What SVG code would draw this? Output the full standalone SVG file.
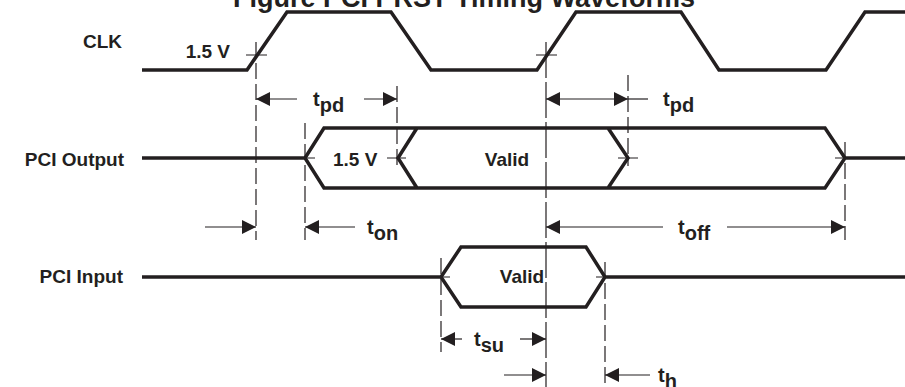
<svg xmlns="http://www.w3.org/2000/svg" width="905" height="387" viewBox="0 0 905 387">
<defs>
<style>
.wave{fill:none;stroke:#231f20;stroke-width:3.5;stroke-linejoin:miter;stroke-linecap:butt}
.thin{fill:none;stroke:#231f20;stroke-width:1.2}
.dash{fill:none;stroke:#231f20;stroke-width:1.2;stroke-dasharray:16 5}
.ldash{fill:none;stroke:#231f20;stroke-width:1.2;stroke-dasharray:36 4}
.lbl{font-family:"Liberation Sans",Arial,sans-serif;font-weight:bold;font-size:19px;fill:#231f20}
.tt{font-family:"Liberation Sans",Arial,sans-serif;font-weight:bold;font-size:20px;fill:#231f20}
.title{font-family:"Liberation Sans",Arial,sans-serif;font-weight:bold;font-size:27px;fill:#231f20}
</style>
<marker id="ah" viewBox="0 0 14 14" refX="14" refY="7" markerWidth="14" markerHeight="14" markerUnits="userSpaceOnUse" orient="auto-start-reverse">
<path d="M0,0 L14,7 L0,14 Z" fill="#231f20"/>
</marker>
</defs>
<rect width="905" height="387" fill="#ffffff"/>
<text class="title" x="464" y="7" text-anchor="middle">Figure PCI PRST Timing Waveforms</text>

<g id="clk">
<text class="lbl" x="122" y="48" text-anchor="end">CLK</text>
<path class="wave" d="M142,70 H247 L287,12 H391 L431,70 H537 L576,12 H681 L719,70 H826 L865,12 H905"/>
<text class="lbl" x="230" y="58" text-anchor="end">1.5 V</text>
</g>

<g id="pci-output">
<text class="lbl" x="124" y="166" text-anchor="end">PCI Output</text>
<path class="wave" d="M142,158 H305 M305,158 L324,128 H825 L845,158 L825,188 H324 Z M845,158 H905 M417,128 L398,158 L417,188 M608,128 L628,158 L608,188"/>
<text class="lbl" x="333" y="166">1.5 V</text>
<text class="lbl" x="507" y="166" text-anchor="middle">Valid</text>
</g>

<g id="pci-input">
<text class="lbl" x="123" y="283" text-anchor="end">PCI Input</text>
<path class="wave" d="M142,277 H441 M441,277 L461,247 H586 L605,277 L586,307 H461 Z M605,277 H905"/>
<text class="lbl" x="522" y="283" text-anchor="middle">Valid</text>
</g>

<g id="connectors">
<path class="dash" d="M256,42 V240"/>
<path class="dash" d="M305,123 V240"/>
<path class="dash" d="M397,86 V170"/>
<path class="dash" d="M628,75 V166"/>
<path class="dash" d="M845,142 V240"/>
<path class="dash" d="M441,258 V352"/>
<path class="dash" d="M605,262 V387"/>
<path class="ldash" d="M546,42 V387"/>
<path class="thin" d="M246,55 H267 M536,55 H557 M305,158 H315 M387,158 H406 M618,158 H638 M835,158 H855 M441,277 H450 M596,277 H605"/>
<path class="thin" d="M297,99 H256" marker-end="url(#ah)"/>
<path class="thin" d="M364,99 H397" marker-end="url(#ah)"/>
<text class="tt" x="313" y="106">t<tspan dy="5.5">pd</tspan></text>
<path class="thin" d="M546,99 H628" marker-start="url(#ah)" marker-end="url(#ah)"/>
<path class="thin" d="M628,99 H648"/>
<text class="tt" x="663" y="106">t<tspan dy="5.5">pd</tspan></text>
<path class="thin" d="M205,227 H256" marker-end="url(#ah)"/>
<path class="thin" d="M355,227 H305" marker-end="url(#ah)"/>
<text class="tt" x="367" y="234">t<tspan dy="5.5">on</tspan></text>
<path class="thin" d="M663,227 H546" marker-end="url(#ah)"/>
<path class="thin" d="M727,227 H845" marker-end="url(#ah)"/>
<text class="tt" x="678" y="234">t<tspan dy="5.5">off</tspan></text>
<path class="thin" d="M462,339 H441" marker-end="url(#ah)"/>
<path class="thin" d="M520,339 H546" marker-end="url(#ah)"/>
<text class="tt" x="474" y="346">t<tspan dy="5.5">su</tspan></text>
<path class="thin" d="M504,375 H546" marker-end="url(#ah)"/>
<path class="thin" d="M650,375 H605" marker-end="url(#ah)"/>
<text class="tt" x="658" y="382">t<tspan dy="5.5">h</tspan></text>
</g>
</svg>
